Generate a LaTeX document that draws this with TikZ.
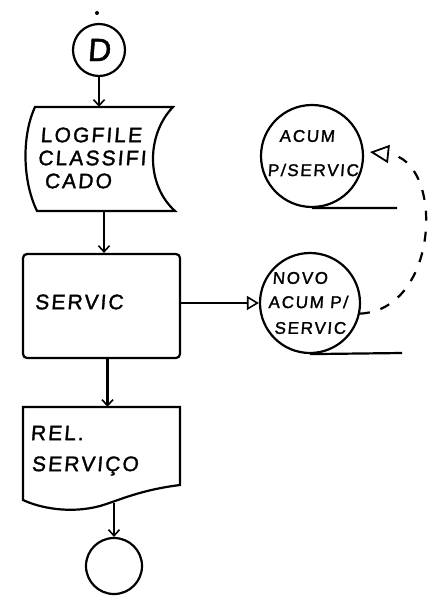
\documentclass[tikz,border=0pt]{standalone}
\usepackage{fontspec}
\newfontfamily\hand[FakeSlant=0.08,LetterSpace=10,FakeBold=1.5]{Liberation Sans}
\usetikzlibrary{arrows.meta}
\tikzset{
  ln/.style={line width=2.2pt, black},
  arr/.style={ln, -{Straight Barb[length=6pt,width=11pt,line width=1.6pt]}},
  openarr/.style={ln, -{Triangle[open,length=12pt,width=14pt,line width=1.6pt]}},
  circ/.style={ln, draw, circle, inner sep=0pt},
  ghost/.style={inner sep=0pt, draw=none},
  big/.style={font=\hand\fontsize{21}{21}\selectfont, inner sep=0pt},
  small/.style={font=\hand\fontsize{17}{17}\selectfont, inner sep=0pt},
}
\begin{document}
\begin{tikzpicture}[x=1pt,y=-1pt]
\useasboundingbox[fill=white] (0,0) rectangle (437,607);

% start connector
\node[circ, minimum size=52pt, font=\hand\fontsize{32}{32}\selectfont] (d) at (99,50) {D};
\fill (97,13) circle (2pt);

% logfile (stored data)
\draw[ln] (35,107) -- (173,107) .. controls (146,135) and (146,185) .. (175,211)
  -- (37,211) .. controls (22,180) and (22,135) .. (35,107) -- cycle;
\node[ghost, minimum width=140pt, minimum height=104pt] (log) at (101,159) {};
\node[big] (t1) at (91,135) {LOGFILE};
\node[big] (t2) at (92,158) {CLASSIFI};
\node[big] (t3) at (78,181) {CADO};

% process box
\node[ln, draw, rounded corners=4pt, minimum width=157pt, minimum height=104pt, inner sep=0pt] (servic) at (101.5,306) {};
\node[big] (t4) at (79,302) {SERVIC};

% report document
\draw[ln] (23,407) -- (180,407) -- (180,485) .. controls (140,490) and (120,500) .. (100,506)
  .. controls (70,514) and (40,508) .. (23,500) -- cycle;
\node[ghost, minimum width=157pt, minimum height=96pt] (rel) at (101.5,455) {};
\node[big] (t5) at (57,433) {REL.};
\node[big] (t6) at (85,466) {SERVIÇO};

% end connector
\node[circ, minimum size=56pt] (end) at (114,566) {};

% files
\node[circ, minimum size=102pt] (acum) at (312,156) {};
\node[small] (t7) at (307,136) {ACUM};
\node[small] (t8) at (313,170) {P/SERVIC};
\coordinate (acumtail) at (397,208);
\draw[ln] (acum.south) -- (acumtail);

\node[circ, minimum size=100pt] (novo) at (310,303) {};
\node[small] (t9) at (300,278) {NOVO};
\node[small] (t10) at (308,302) {ACUM P/};
\node[small] (t11) at (310,328) {SERVIC};
\coordinate (novotail) at (402,353);
\draw[ln] (novo.south) -- (novotail);

% connectors
\draw[arr] (d.south) -- (d.south |- log.north);
\draw[arr] ([xshift=3pt]log.south) -- ([xshift=3pt]log.south |- servic.north);
\draw[arr] ([xshift=6pt]servic.south) -- ([xshift=6pt]servic.south |- rel.north);
\draw[arr] (end.north |- 0,503) -- (end.north);
\draw[openarr] (servic.east |- novo.west) -- (novo.west);
\coordinate (tip) at (370,152);
\draw[ln, dash pattern=on 10pt off 11pt, -{Triangle[open,length=19pt,width=18pt,line width=1.8pt]}]
  (novo.-12) .. controls (440,310) and (445,160) .. (tip);
\end{tikzpicture}
\end{document}
